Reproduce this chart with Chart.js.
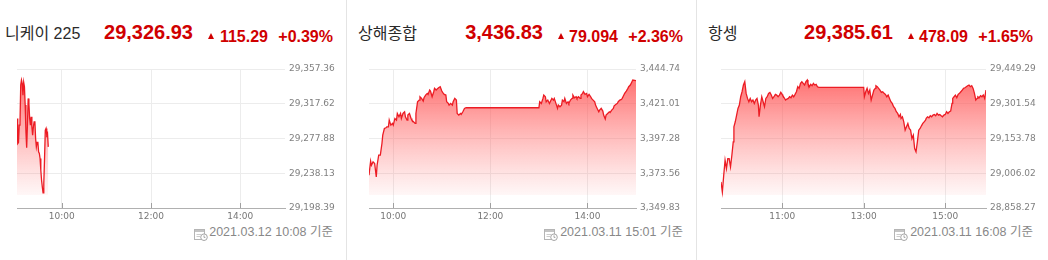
<!DOCTYPE html>
<html><head><meta charset="utf-8">
<script src="https://cdn.jsdelivr.net/npm/chart.js@4.4.0/dist/chart.umd.min.js"></script>
<style>
html,body{margin:0;padding:0;background:#fff;}
body{width:1048px;height:260px;position:relative;overflow:hidden;font-family:'Liberation Sans','Noto Sans CJK KR',sans-serif;}
.panel{position:absolute;top:0;width:350px;height:260px;}
.sep{position:absolute;top:0;width:1px;height:260px;background:#e4e4e4;}
.name{position:absolute;top:26px;font-size:16px;line-height:16px;color:#2a2a2a;white-space:nowrap;}
.price{position:absolute;right:154px;top:22px;font-size:20px;line-height:20px;font-weight:bold;color:#d00000;white-space:nowrap;}
.chg{position:absolute;right:79px;top:29px;font-size:16px;line-height:16px;font-weight:bold;color:#d00000;white-space:nowrap;}
.pct{position:absolute;right:14px;top:29px;font-size:16px;line-height:16px;font-weight:bold;color:#d00000;white-space:nowrap;}
.tri{position:absolute;left:211px;top:33px;width:0;height:0;border-left:3.5px solid transparent;border-right:3.5px solid transparent;border-bottom:6px solid #d00000;}
.foot{position:absolute;right:14px;top:226px;font-size:12.5px;line-height:13px;color:#888;white-space:nowrap;}
.icon{position:absolute;left:197px;top:227px;}
.cw{position:absolute;left:0;top:55px;width:350px;height:200px;}
</style></head>
<body>
<script>
// ---------- data ----------
const names = ['니케이 225', '상해종합', '항셍'];
const prices = ['29,326.93', '3,436.83', '29,385.61'];
const changes = ['115.29', '79.094', '478.09'];
const percents = ['+0.39%', '+2.36%', '+1.65%'];
const stamps = ['2021.03.12 10:08 기준', '2021.03.11 15:01 기준', '2021.03.11 16:08 기준'];

const nikkeiTimes = ['9:00','9:01','9:02','9:03','9:04','9:05','9:06','9:07','9:08','9:09','9:10','9:11','9:12','9:13','9:14','9:15','9:16','9:17','9:18','9:19','9:20','9:21','9:22','9:23','9:24','9:25','9:26','9:27','9:28','9:29','9:30','9:31','9:32','9:33','9:34','9:35','9:36','9:37','9:38','9:39','9:40','9:41','9:42'];
const nikkeiValues = [29300.8,29272.1,29273.3,29293.1,29295.1,29339.0,29344.7,29340.9,29327.5,29342.1,29337.1,29316.1,29285.5,29267.2,29293.1,29323.7,29318.0,29300.8,29293.1,29302.7,29291.2,29281.7,29291.2,29297.0,29297.7,29277.9,29268.3,29273.3,29274.1,29262.6,29260.7,29255.0,29241.6,29230.1,29222.5,29215.6,29226.3,29255.0,29287.4,29289.3,29281.7,29283.6,29268.3];
const nikkeiXTicks = ['10:00','12:00','14:00'];
const nikkeiYTicks = ['29,198.39','29,238.13','29,277.88','29,317.62','29,357.36'];
const nikkeiSession = ['9:00','15:00'];

const shanghaiTimes = ['9:30','9:32','9:33','9:35','9:37','9:38','9:39','9:40','9:42','9:44','9:46','9:47','9:49','9:51','9:52','9:54','9:55','9:57','9:59','10:00','10:02','10:04','10:05','10:07','10:09','10:10','10:12','10:14','10:15','10:17','10:18','10:20','10:22','10:23','10:25','10:27','10:28','10:30','10:32','10:33','10:35','10:37','10:38','10:40','10:42','10:43','10:45','10:46','10:48','10:50','10:51','10:53','10:55','10:56','10:58','11:00','11:01','11:03','11:05','11:06','11:08','11:09','11:11','11:13','11:14','11:16','11:18','11:19','11:21','11:23','11:24','11:26','11:28','11:30','13:00','13:01','13:03','13:05','13:06','13:08','13:09','13:11','13:13','13:14','13:16','13:18','13:19','13:21','13:23','13:24','13:26','13:28','13:29','13:31','13:32','13:34','13:36','13:37','13:39','13:41','13:42','13:44','13:46','13:47','13:49','13:51','13:52','13:54','13:55','13:57','13:59','14:00','14:02','14:04','14:05','14:07','14:09','14:10','14:12','14:14','14:15','14:17','14:19','14:20','14:22','14:23','14:25','14:27','14:28','14:30','14:32','14:33','14:35','14:37','14:38','14:40','14:42','14:43','14:45','14:46','14:48','14:50','14:51','14:53','14:55','14:56','15:00'];
const shanghaiValues = [3372.19,3381.77,3379.03,3381.31,3380.17,3375.61,3371.05,3379.03,3385.88,3385.88,3393.86,3399.57,3404.13,3404.59,3405.27,3405.27,3409.83,3406.41,3407.55,3406.41,3410.97,3409.83,3414.40,3412.11,3414.40,3410.97,3414.40,3415.54,3412.11,3409.83,3413.26,3414.40,3410.97,3409.83,3408.69,3407.55,3414.40,3422.38,3423.52,3425.80,3424.66,3422.84,3425.12,3426.94,3428.08,3427.40,3430.37,3429.68,3425.80,3429.23,3431.51,3430.37,3431.51,3431.96,3432.65,3429.68,3428.77,3427.40,3426.94,3422.38,3421.24,3420.10,3421.24,3420.10,3422.38,3424.66,3423.52,3414.40,3413.26,3414.40,3413.71,3415.54,3417.82,3418.28,3418.28,3422.38,3421.24,3424.66,3426.94,3425.80,3422.38,3423.52,3421.24,3422.38,3424.66,3423.52,3424.66,3421.24,3417.82,3420.10,3418.96,3420.10,3423.52,3422.38,3424.66,3421.24,3422.38,3421.24,3423.52,3424.66,3426.94,3425.12,3425.80,3424.66,3425.80,3424.66,3426.94,3428.08,3429.23,3427.40,3428.08,3425.80,3427.40,3425.80,3424.66,3423.52,3422.38,3420.10,3417.82,3415.54,3416.68,3417.82,3415.99,3413.26,3410.52,3413.26,3414.40,3415.54,3415.08,3416.68,3417.82,3419.64,3420.56,3421.24,3422.38,3423.52,3423.98,3424.66,3426.94,3428.08,3429.68,3431.51,3432.65,3433.79,3436.07,3437.21,3436.83];
const shanghaiXTicks = ['10:00','12:00','14:00'];
const shanghaiYTicks = ['3,349.83','3,373.56','3,397.28','3,421.01','3,444.74'];
const shanghaiSession = ['9:30','15:00'];

const hangsengTimes = ['9:30','9:32','9:34','9:36','9:38','9:40','9:42','9:44','9:46','9:48','9:49','9:51','9:53','9:55','9:57','9:59','10:01','10:03','10:05','10:07','10:09','10:11','10:13','10:15','10:17','10:19','10:21','10:23','10:25','10:26','10:28','10:30','10:32','10:34','10:36','10:38','10:40','10:42','10:44','10:46','10:48','10:50','10:52','10:54','10:56','10:58','11:00','11:01','11:03','11:05','11:07','11:09','11:11','11:13','11:15','11:17','11:19','11:21','11:23','11:25','11:27','11:29','11:31','11:33','11:35','11:37','11:38','11:40','11:42','11:44','11:46','11:48','11:50','11:52','11:54','12:00','13:00','13:01','13:03','13:05','13:07','13:09','13:11','13:13','13:15','13:17','13:18','13:20','13:22','13:24','13:26','13:28','13:30','13:32','13:34','13:36','13:38','13:40','13:42','13:44','13:46','13:48','13:50','13:52','13:54','13:55','13:57','13:59','14:01','14:03','14:05','14:07','14:09','14:11','14:13','14:15','14:17','14:19','14:21','14:23','14:25','14:27','14:29','14:31','14:32','14:34','14:36','14:38','14:40','14:42','14:44','14:46','14:48','14:50','14:52','14:54','14:56','14:58','15:00','15:02','15:04','15:06','15:08','15:10','15:11','15:13','15:15','15:17','15:19','15:21','15:23','15:25','15:27','15:29','15:31','15:33','15:35','15:37','15:39','15:41','15:43','15:45','15:47','15:48','15:50','15:52','15:54','15:56','15:58','16:00'];
const hangsengValues = [28969.08,28926.46,28997.50,29061.43,29025.91,29068.53,29068.53,29033.02,29082.74,29139.57,29203.50,29224.81,29253.22,29281.64,29295.85,29331.36,29352.67,29381.09,29395.29,29345.57,29324.26,29310.05,29324.26,29310.05,29317.16,29302.95,29317.16,29324.26,29295.85,29246.12,29295.85,29331.36,29310.05,29288.74,29324.26,29331.36,29345.57,29349.83,29338.47,29324.26,29331.36,29341.31,29338.47,29331.36,29338.47,29349.83,29341.31,29335.63,29327.10,29317.16,29321.42,29324.26,29331.36,29327.10,29338.47,29331.36,29341.31,29352.67,29373.98,29366.88,29388.19,29395.29,29388.19,29381.09,29395.29,29402.40,29388.19,29373.98,29383.93,29378.25,29388.19,29381.09,29383.93,29373.98,29371.14,29371.14,29371.14,29331.36,29352.67,29366.88,29345.57,29359.78,29317.16,29338.47,29359.78,29366.88,29378.25,29373.98,29366.88,29359.78,29349.83,29352.67,29345.57,29341.31,29331.36,29338.47,29324.26,29310.05,29302.95,29288.74,29281.64,29267.43,29260.33,29246.12,29256.07,29239.02,29246.12,29224.81,29189.29,29203.50,29217.71,29196.40,29189.29,29153.78,29167.98,29111.15,29096.95,29139.57,29189.29,29196.40,29207.76,29217.71,29224.81,29231.91,29239.02,29246.12,29241.86,29250.38,29246.12,29253.22,29256.07,29250.38,29260.33,29253.22,29256.07,29250.38,29246.12,29253.22,29256.07,29267.43,29260.33,29267.43,29270.27,29302.95,29324.26,29331.36,29338.47,29327.10,29341.31,29345.57,29352.67,29359.78,29366.88,29369.72,29373.98,29378.25,29381.09,29373.98,29378.25,29366.88,29345.57,29317.16,29324.26,29331.36,29327.10,29335.63,29331.36,29338.47,29324.26,29359.78];
const hangsengXTicks = ['11:00','13:00','15:00'];
const hangsengYTicks = ['28,858.27','29,006.02','29,153.78','29,301.54','29,449.29'];
const hangsengSession = ['9:30','16:00'];

// ---------- layout ----------
const panelLeft = [-3, 347, 697];
const nameLeft = [8, 11, 11];
const plotLeft = [20, 22, 24];
const plotRight = [288, 289, 289];

const toMin = s => { const [h, m] = s.split(':').map(Number); return h * 60 + m; };
const toNum = s => Number(s.replace(/,/g, ''));

const series = [
  {times: nikkeiTimes, values: nikkeiValues, xt: nikkeiXTicks, yt: nikkeiYTicks, sess: nikkeiSession},
  {times: shanghaiTimes, values: shanghaiValues, xt: shanghaiXTicks, yt: shanghaiYTicks, sess: shanghaiSession},
  {times: hangsengTimes, values: hangsengValues, xt: hangsengXTicks, yt: hangsengYTicks, sess: hangsengSession}
];

const iconSvg = '<svg width="14" height="13" viewBox="0 0 14 13"><rect x="0.5" y="1.5" width="10" height="10" fill="#fff" stroke="#b5b5b5"/><rect x="1" y="2" width="9" height="2" fill="#c4c4c4"/><line x1="2.5" y1="6.5" x2="7" y2="6.5" stroke="#ccc"/><line x1="2.5" y1="8.5" x2="6" y2="8.5" stroke="#ccc"/><circle cx="10" cy="9.2" r="3.3" fill="#fff" stroke="#a5a5a5"/><path d="M10 7.4v2h1.4" stroke="#a5a5a5" fill="none"/></svg>';

const innerTicks = {
  id: 'innerTicks',
  afterDraw(chart) {
    const xs = chart.scales.x, c = chart.ctx, b = chart.chartArea.bottom;
    c.save(); c.strokeStyle = '#a0a0a0'; c.lineWidth = 1;
    xs.ticks.forEach(t => {
      const px = Math.round(xs.getPixelForValue(t.value)) + 0.5;
      c.beginPath(); c.moveTo(px, b - 5); c.lineTo(px, b); c.stroke();
    });
    c.restore();
  }
};

series.forEach((s, i) => {
  const p = document.createElement('div');
  p.className = 'panel';
  p.style.left = panelLeft[i] + 'px';
  p.innerHTML =
    '<div class="name" style="left:' + nameLeft[i] + 'px">' + names[i] + '</div>' +
    '<div class="price">' + prices[i] + '</div>' +
    '<div class="tri"></div>' +
    '<div class="chg">' + changes[i] + '</div>' +
    '<div class="pct">' + percents[i] + '</div>' +
    '<div class="icon">' + iconSvg + '</div>' +
    '<div class="foot">' + stamps[i] + '</div>' +
    '<div class="cw"><canvas width="350" height="200"></canvas></div>';
  document.body.appendChild(p);
  if (i > 0) {
    const sp = document.createElement('div');
    sp.className = 'sep';
    sp.style.left = (panelLeft[i] - 1) + 'px';
    document.body.appendChild(sp);
  }

  const yVals = s.yt.map(toNum);
  const yMin = yVals[0], yMax = yVals[yVals.length - 1];
  const base = yMin + (yMax - yMin) * 0.093;
  const xVals = s.xt.map(toMin);
  const pts = s.times.map((t, k) => ({x: toMin(t), y: s.values[k]}));

  new Chart(p.querySelector('canvas'), {
    type: 'line',
    data: {datasets: [{
      data: pts,
      borderColor: '#ec1c24',
      borderWidth: 1.3,
      pointRadius: 0,
      tension: 0,
      fill: {value: base},
      backgroundColor: (c) => {
        const ch = c.chart, a = ch.chartArea;
        if (!a) return 'rgba(255,100,100,0.4)';
        const yb = ch.scales.y.getPixelForValue(base);
        const g = ch.ctx.createLinearGradient(0, a.top, 0, yb);
        g.addColorStop(0, 'rgba(255,70,70,0.85)');
        g.addColorStop(1, 'rgba(255,120,120,0.06)');
        return g;
      }
    }]},
    options: {
      responsive: false,
      animation: false,
      events: [],
      layout: {padding: {left: plotLeft[i], right: 0, top: 14, bottom: 0}},
      plugins: {legend: {display: false}, tooltip: {enabled: false}},
      scales: {
        x: {
          type: 'linear',
          min: toMin(s.sess[0]), max: toMin(s.sess[1]),
          afterBuildTicks: sc => { sc.ticks = xVals.map(v => ({value: v})); },
          afterFit: sc => { sc.height = 47; },
          grid: {color: '#ececec', drawTicks: false},
          border: {display: true, color: '#b0b0b0'},
          ticks: {
            padding: 3, color: '#777', maxRotation: 0, autoSkip: false,
            font: {family: 'DejaVu Sans', size: 9},
            callback: (v, k) => s.xt[k]
          }
        },
        y: {
          position: 'right',
          min: yMin, max: yMax,
          afterBuildTicks: sc => { sc.ticks = yVals.map(v => ({value: v})); },
          afterFit: sc => { sc.width = 350 - plotRight[i]; },
          grid: {color: '#ececec', drawTicks: false},
          border: {display: false},
          ticks: {
            padding: 4, color: '#808080', autoSkip: false,
            font: {family: 'DejaVu Sans', size: 9},
            callback: (v, k) => s.yt[k]
          }
        }
      }
    },
    plugins: [innerTicks]
  });
});
</script>
</body></html>
